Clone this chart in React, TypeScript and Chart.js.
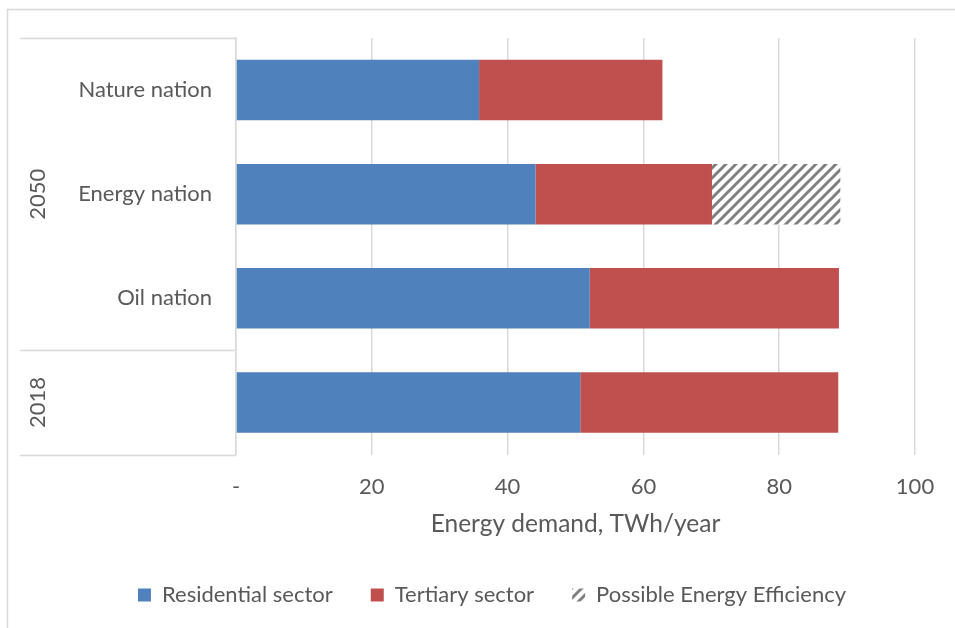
import React, { useEffect, useRef } from "react";
import { Chart, registerables } from "chart.js";

Chart.register(...registerables);

const categories = ["Nature nation", "Energy nation", "Oil nation", ""];
const groupLabels = ["2050", "2018"];
const groupEnd = [2, 3];

const residential = [35.8, 44.1, 52.1, 50.7];
const tertiary = [27.0, 26.0, 36.7, 38.0];
const efficiency = [null, 18.9, null, null];

const xMin = 0;
const xMax = 100;
const xStep = 20;

const FONT = "Lato, 'Open Sans', sans-serif";
const TEXT = "#595959";
const GRID = "#d9d9d9";

function makeHatch(ctx: CanvasRenderingContext2D) {
  const c = document.createElement("canvas");
  c.width = 10;
  c.height = 10;
  const g = c.getContext("2d")!;
  g.fillStyle = "#ffffff";
  g.fillRect(0, 0, 10, 10);
  g.strokeStyle = "#808080";
  g.lineWidth = 3;
  g.beginPath();
  g.moveTo(-2, 12);
  g.lineTo(12, -2);
  g.moveTo(-7, 7);
  g.lineTo(7, -7);
  g.moveTo(3, 17);
  g.lineTo(17, 3);
  g.stroke();
  return ctx.createPattern(c, "repeat")!;
}

const decorations = {
  id: "decorations",
  afterDraw(chart: any) {
    const { ctx, chartArea, scales } = chart;
    const y = scales.y;
    ctx.save();
    ctx.strokeStyle = GRID;
    ctx.lineWidth = 1.5;
    ctx.beginPath();
    ctx.moveTo(7, 9.5);
    ctx.lineTo(955, 9.5);
    ctx.moveTo(7.5, 9);
    ctx.lineTo(7.5, 628);
    ctx.stroke();
    const bounds: number[] = [chartArea.top];
    for (let i = 0; i < groupLabels.length; i++) {
      const end = groupEnd[i];
      const yb =
        end < categories.length - 1
          ? (y.getPixelForTick(end) + y.getPixelForTick(end + 1)) / 2
          : chartArea.bottom;
      bounds.push(yb);
    }
    ctx.beginPath();
    for (const b of bounds) {
      ctx.moveTo(20, Math.round(b) + 0.5);
      ctx.lineTo(chartArea.left, Math.round(b) + 0.5);
    }
    ctx.stroke();
    ctx.fillStyle = TEXT;
    ctx.font = `22px ${FONT}`;
    ctx.textAlign = "center";
    ctx.textBaseline = "middle";
    for (let i = 0; i < groupLabels.length; i++) {
      const cy = (bounds[i] + bounds[i + 1]) / 2;
      ctx.save();
      ctx.translate(38, cy);
      ctx.rotate(-Math.PI / 2);
      ctx.fillText(groupLabels[i], 0, 0);
      ctx.restore();
    }
    ctx.restore();
  },
};

export default function App() {
  const ref = useRef<HTMLCanvasElement | null>(null);

  useEffect(() => {
    const canvas = ref.current!;
    const ctx = canvas.getContext("2d")!;
    const hatch = makeHatch(ctx);
    Chart.defaults.font.family = FONT;
    const chart = new Chart(ctx, {
      type: "bar",
      data: {
        labels: categories,
        datasets: [
          {
            label: "Residential sector",
            data: residential,
            backgroundColor: "#4f81bd",
            borderWidth: 0,
          },
          {
            label: "Tertiary sector",
            data: tertiary,
            backgroundColor: "#c0504d",
            borderWidth: 0,
          },
          {
            label: "Possible Energy Efficiency",
            data: efficiency as any,
            backgroundColor: hatch as any,
            borderWidth: 0,
          },
        ],
      },
      options: {
        indexAxis: "y",
        responsive: true,
        maintainAspectRatio: false,
        animation: false,
        datasets: {
          bar: { categoryPercentage: 1, barPercentage: 0.58 },
        },
        layout: { padding: { top: 38, left: 69, right: 40, bottom: 12 } },
        plugins: {
          tooltip: { enabled: false },
          legend: {
            position: "bottom",
            labels: {
              color: TEXT,
              font: { size: 22, family: FONT },
              boxWidth: 13,
              boxHeight: 13,
              padding: 38,
            },
          },
        },
        scales: {
          x: {
            stacked: true,
            min: xMin,
            max: xMax,
            border: { display: false },
            grid: { color: GRID, lineWidth: 1.5, drawTicks: false },
            ticks: {
              stepSize: xStep,
              color: TEXT,
              font: { size: 22, family: FONT },
              padding: 19,
              callback: (v: any) => (Number(v) === 0 ? "-" : String(v)),
            },
            title: {
              display: true,
              text: "Energy demand, TWh/year",
              color: TEXT,
              font: { size: 24.5, family: FONT },
              padding: { top: 0, bottom: 7 },
            },
            afterFit: (s: any) => {
              s.height = 91.5;
            },
          },
          y: {
            stacked: true,
            border: { display: true, color: GRID, width: 1.5 },
            grid: { display: false },
            ticks: {
              color: TEXT,
              font: { size: 22, family: FONT },
              padding: 16,
              autoSkip: false,
            },
            afterFit: (s: any) => {
              s.width = 236 - 69;
            },
          },
        },
      },
      plugins: [decorations],
    });
    return () => chart.destroy();
  }, []);

  return (
    <div style={{ position: "absolute", left: 0, top: 0, width: 955, height: 628, background: "#fff" }}>
      <canvas ref={ref} />
    </div>
  );
}
